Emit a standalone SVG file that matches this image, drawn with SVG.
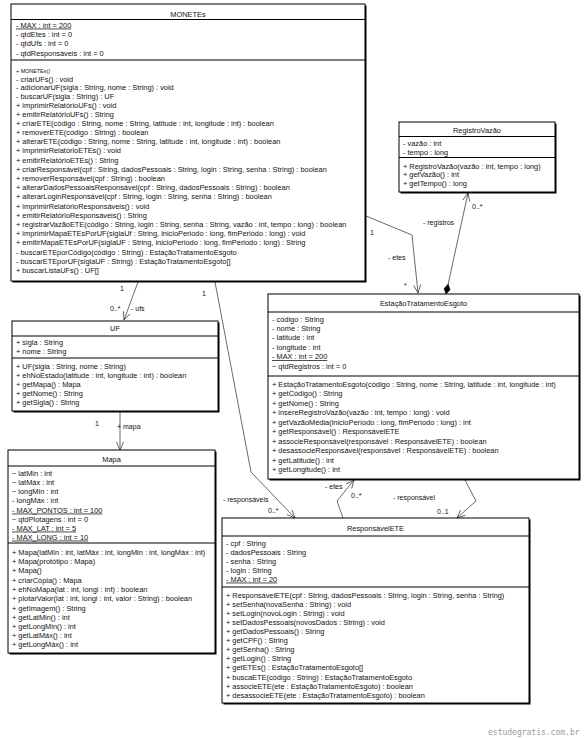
<svg xmlns="http://www.w3.org/2000/svg" width="584" height="738" viewBox="0 0 584 738">
<style>
text{font-family:"Liberation Sans",Arial,sans-serif;font-size:7.4px;fill:#111}
.ti{text-anchor:middle}
.u{text-decoration:underline}
.sm{font-size:5.4px}
.box{fill:#fff;stroke:#000;stroke-width:1}
.sh{fill:#000}
.sep{stroke:#000;stroke-width:1}
.c{fill:none;stroke:#444;stroke-width:0.8}
.lb{font-size:7px}
.wm{font-family:"DejaVu Sans Mono",monospace;font-size:8px;fill:#9a9a9a}
</style>
<defs>
<marker id="arr" markerUnits="userSpaceOnUse" orient="auto" overflow="visible" markerWidth="1" markerHeight="1"><path d="M-8,-3.5 L0,0 L-8,3.5" fill="none" stroke="#444" stroke-width="0.8"/></marker>
<marker id="dia" markerUnits="userSpaceOnUse" orient="auto" overflow="visible" markerWidth="1" markerHeight="1"><path d="M0,0 L5,-3 L10,0 L5,3 Z" fill="#000" stroke="#000" stroke-width="0.6"/></marker>
</defs>
<rect width="584" height="738" fill="#fff"/>

<g id="connectors">
<polyline class="c" points="138,282 124,320" marker-end="url(#arr)"/>
<text class="lb" x="120" y="291">1</text>
<text class="lb" x="110" y="311">0..*</text>
<text class="lb" x="131" y="311">- ufs</text>

<polyline class="c" points="215,282 251,472 295,518" marker-end="url(#arr)"/>
<text class="lb" x="202" y="296">1</text>
<text class="lb" x="223" y="502">- responsáveis</text>
<text class="lb" x="268" y="513">0..*</text>

<polyline class="c" points="366,216 412,235 418,293" marker-end="url(#arr)"/>
<text class="lb" x="370" y="235">1</text>
<text class="lb" x="388" y="260">- etes</text>
<text class="lb" x="404" y="288">*</text>

<polyline class="c" points="446,294 468,193" marker-start="url(#dia)" marker-end="url(#arr)"/>
<text class="lb" x="423" y="225">- registros</text>
<text class="lb" x="472" y="209">0..*</text>

<polyline class="c" points="120,412 120,450" marker-end="url(#arr)"/>
<text class="lb" x="95" y="426">1</text>
<text class="lb" x="117" y="429">+ mapa</text>

<polyline class="c" points="343,518 337,501 354,480" marker-end="url(#arr)"/>
<text class="lb" x="325" y="489">- etes</text>
<text class="lb" x="351" y="498">0..*</text>

<polyline class="c" points="465,480 476,501 457,518" marker-end="url(#arr)"/>
<text class="lb" x="393" y="500">- responsável</text>
<text class="lb" x="437" y="514">0..1</text>
</g>

<g id="n-monetes">
<rect class="sh" x="12.5" y="5.5" width="354" height="277"/>
<rect class="box" x="11" y="4" width="354" height="277"/>
<line class="sep" x1="11" y1="19.5" x2="365" y2="19.5"/>
<line class="sep" x1="11" y1="60" x2="365" y2="60"/>
<text class="ti" x="188" y="16.6">MONETEs</text>
<text class="u" x="16" y="27.6">- MAX : int = 200</text>
<text x="16" y="36.9">- qtdEtes : int = 0</text>
<text x="16" y="46.2">- qtdUfs : int = 0</text>
<text x="16" y="55.5">- qtdResponsáveis : int = 0</text>
<text class="sm" x="16" y="73.2">+ MONETEs()</text>
<text x="16" y="81.8">- criarUFs() : void</text>
<text x="16" y="90.2">- adicionarUF(sigla : String, nome : String) : void</text>
<text x="16" y="98.8">- buscarUF(sigla : String) : UF</text>
<text x="16" y="107.6">+ imprimirRelatórioUFs() : void</text>
<text x="16" y="116.6">+ emitirRelatórioUFs() : String</text>
<text x="16" y="125.8">+ criarETE(código : String, nome : String, latitude : int, longitude : int) : boolean</text>
<text x="16" y="135.0">+ removerETE(código : String) : boolean</text>
<text x="16" y="144.2">+ alterarETE(código : String, nome : String, latitude : int, longitude : int) : boolean</text>
<text x="16" y="153.4">+ imprimirRelatórioETEs() : void</text>
<text x="16" y="162.6">+ emitirRelatórioETEs() : String</text>
<text x="16" y="171.8">+ criarResponsável(cpf : String, dadosPessoais : String, login : String, senha : String) : boolean</text>
<text x="16" y="181.0">+ removerResponsável(cpf : String) : boolean</text>
<text x="16" y="190.2">+ alterarDadosPessoaisResponsável(cpf : String, dadosPessoais : String) : boolean</text>
<text x="16" y="199.4">+ alterarLoginResponsável(cpf : String, login : String, senha : String) : boolean</text>
<text x="16" y="208.6">+ imprimirRelatórioResponsáveis() : void</text>
<text x="16" y="217.8">+ emitirRelatórioResponsáveis() : String</text>
<text x="16" y="227.0">+ registrarVazãoETE(código : String, login : String, senha : String, vazão : int, tempo : long) : boolean</text>
<text x="16" y="236.2">+ imprimirMapaETEsPorUF(siglaUf : String, inicioPeriodo : long, fimPeriodo : long) : void</text>
<text x="16" y="245.4">+ emitirMapaETEsPorUF(siglaUF : String, inicioPeriodo : long, fimPeriodo : long) : String</text>
<text x="16" y="254.6">- buscarETEporCódigo(código : String) : EstaçãoTratamentoEsgoto</text>
<text x="16" y="263.8">- buscarETEporUF(siglaUF : String) : EstaçãoTratamentoEsgoto[]</text>
<text x="16" y="273.0">+ buscarListaUFs() : UF[]</text>
</g>

<g id="n-registro">
<rect class="sh" x="400.5" y="123.5" width="156" height="70"/>
<rect class="box" x="399" y="122" width="156" height="70"/>
<line class="sep" x1="399" y1="136.5" x2="555" y2="136.5"/>
<line class="sep" x1="399" y1="157.5" x2="555" y2="157.5"/>
<text class="ti" x="477" y="132.6">RegistroVazão</text>
<text x="403" y="145.6">- vazão : int</text>
<text x="403" y="154.6">- tempo : long</text>
<text x="403" y="168.6">+ RegistroVazão(vazão : int, tempo : long)</text>
<text x="403" y="177.1">+ getVazão() : int</text>
<text x="403" y="185.6">+ getTempo() : long</text>
</g>

<g id="n-uf">
<rect class="sh" x="13.5" y="322.5" width="206" height="90"/>
<rect class="box" x="12" y="321" width="206" height="90"/>
<line class="sep" x1="12" y1="336" x2="218" y2="336"/>
<line class="sep" x1="12" y1="358" x2="218" y2="358"/>
<text class="ti" x="115" y="331">UF</text>
<text x="16" y="345">+ sigla : String</text>
<text x="16" y="353.6">+ nome : String</text>
<text x="16" y="368.6">+ UF(sigla : String, nome : String)</text>
<text x="16" y="377.6">+ ehNoEstado(latitude : int, longitude : int) : boolean</text>
<text x="16" y="386.6">+ getMapa() : Mapa</text>
<text x="16" y="395.6">+ getNome() : String</text>
<text x="16" y="404.6">+ getSigla() : String</text>
</g>

<g id="n-mapa">
<rect class="sh" x="9.5" y="451.5" width="207" height="203"/>
<rect class="box" x="8" y="450" width="207" height="203"/>
<line class="sep" x1="8" y1="466" x2="215" y2="466"/>
<line class="sep" x1="8" y1="543" x2="215" y2="543"/>
<text class="ti" x="111.5" y="461.6">Mapa</text>
<text x="12" y="475.6">~ latMin : int</text>
<text x="12" y="484.6">~ latMáx : int</text>
<text x="12" y="493.6">~ longMin : int</text>
<text x="12" y="502.6">- longMáx : int</text>
<text class="u" x="12" y="512.6">- MAX_PONTOS : int = 100</text>
<text x="12" y="521.6">~ qtdPlotagens : int = 0</text>
<text class="u" x="12" y="530.6">- MAX_LAT : int = 5</text>
<text class="u" x="12" y="539.6">- MAX_LONG : int = 10</text>
<text x="12" y="554.6">+ Mapa(latMin : int, latMáx : int, longMin : int, longMáx : int)</text>
<text x="12" y="563.6">+ Mapa(protótipo : Mapa)</text>
<text x="12" y="572.6">+ Mapa()</text>
<text x="12" y="582.6">+ criarCópia() : Mapa</text>
<text x="12" y="591.6">+ ehNoMapa(lat : int, longi : int) : boolean</text>
<text x="12" y="600.6">+ plotarValor(lat : int, longi : int, valor : String) : boolean</text>
<text x="12" y="610.6">+ getImagem() : String</text>
<text x="12" y="619.6">+ getLatMin() : int</text>
<text x="12" y="628.6">+ getLongMin() : int</text>
<text x="12" y="637.6">+ getLatMáx() : int</text>
<text x="12" y="646.6">+ getLongMáx() : int</text>
</g>

<g id="n-estacao">
<rect class="sh" x="269.5" y="295.5" width="311" height="185"/>
<rect class="box" x="268" y="294" width="311" height="185"/>
<line class="sep" x1="268" y1="312" x2="579" y2="312"/>
<line class="sep" x1="268" y1="376" x2="579" y2="376"/>
<text class="ti" x="423.5" y="306.2">EstaçãoTratamentoEsgoto</text>
<text x="272" y="321.6">- código : String</text>
<text x="272" y="331.0">- nome : String</text>
<text x="272" y="340.4">- latitude : int</text>
<text x="272" y="349.8">- longitude : int</text>
<text class="u" x="272" y="359.2">- MAX : int = 200</text>
<text x="272" y="368.6">~ qtdRegistros : int = 0</text>
<text x="272" y="386.6">+ EstaçãoTratamentoEsgoto(código : String, nome : String, latitude : int, longitude : int)</text>
<text x="272" y="396.1">+ getCódigo() : String</text>
<text x="272" y="405.6">+ getNome() : String</text>
<text x="272" y="415.1">+ insereRegistroVazão(vazão : int, tempo : long) : void</text>
<text x="272" y="424.6">+ getVazãoMédia(inicioPeríodo : long, fimPeríodo : long) : int</text>
<text x="272" y="434.1">+ getResponsável() : ResponsávelETE</text>
<text x="272" y="443.6">+ associeResponsável(responsável : ResponsávelETE) : boolean</text>
<text x="272" y="453.1">+ desassocieResponsável(responsável : ResponsávelETE) : boolean</text>
<text x="272" y="462.6">+ getLatitude() : int</text>
<text x="272" y="472.1">+ getLongitude() : int</text>
</g>

<g id="n-responsavel">
<rect class="sh" x="223.5" y="519.5" width="307" height="185"/>
<rect class="box" x="222" y="518" width="307" height="185"/>
<line class="sep" x1="222" y1="536" x2="529" y2="536"/>
<line class="sep" x1="222" y1="587" x2="529" y2="587"/>
<text class="ti" x="375.5" y="531">ResponsávelETE</text>
<text x="226" y="545.6">- cpf : String</text>
<text x="226" y="554.6">- dadosPessoais : String</text>
<text x="226" y="563.6">- senha : String</text>
<text x="226" y="572.6">- login : String</text>
<text class="u" x="226" y="581.6">- MAX : int = 20</text>
<text x="226" y="597.6">+ ResponsávelETE(cpf : String, dadosPessoais : String, login : String, senha : String)</text>
<text x="226" y="606.7">+ setSenha(novaSenha : String) : void</text>
<text x="226" y="615.8">+ setLogin(novoLogin : String) : void</text>
<text x="226" y="624.9">+ setDadosPessoais(novosDados : String) : void</text>
<text x="226" y="634.0">+ getDadosPessoais() : String</text>
<text x="226" y="643.1">+ getCPF() : String</text>
<text x="226" y="652.2">+ getSenha() : String</text>
<text x="226" y="661.3">+ getLogin() : String</text>
<text x="226" y="670.4">+ getETEs() : EstaçãoTratamentoEsgoto[]</text>
<text x="226" y="679.5">+ buscaETE(código : String) : EstaçãoTratamentoEsgoto</text>
<text x="226" y="688.6">+ associeETE(ete : EstaçãoTratamentoEsgoto) : boolean</text>
<text x="226" y="697.7">+ desassocieETE(ete : EstaçãoTratamentoEsgoto) : boolean</text>
</g>

<text class="wm" x="488" y="735">estudegratis.com.br</text>
</svg>
